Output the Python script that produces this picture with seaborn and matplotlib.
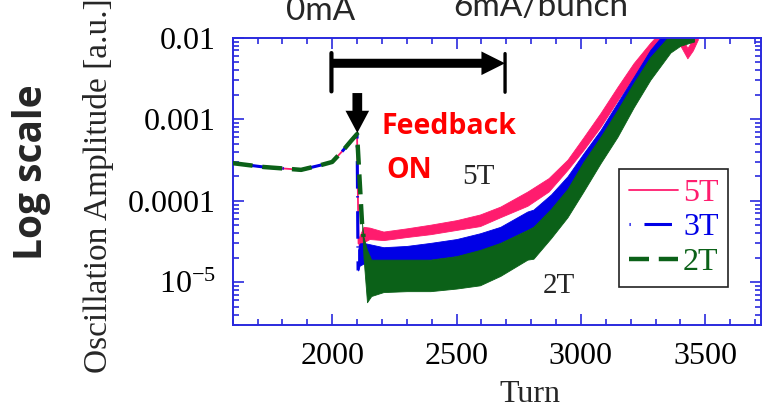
import matplotlib
matplotlib.use("Agg")
import matplotlib.pyplot as plt
from matplotlib.ticker import FixedLocator, FixedFormatter, MultipleLocator, LogLocator, NullFormatter
import pandas as pd
import seaborn as sns

# ---- data -------------------------------------------------------------
fields = ["5T", "3T", "2T"]

# common growth of the oscillation before the feedback is switched on
pre_turn = [1600, 1725, 1800, 1875, 1955, 2000, 2045, 2075, 2100]
pre_amp = [2.9e-4, 2.6e-4, 2.5e-4, 2.4e-4, 2.75e-4, 3.0e-4, 4.2e-4, 5.4e-4, 6.6e-4]

# damping step right after feedback ON
drop_turn = {"5T": [2106], "3T": [2104], "2T": [2120, 2126]}
drop_amp = {"5T": [3.0e-5], "3T": [1.4e-5], "2T": [5.3e-5, 3.6e-5]}

# envelope (min / max) of the fast oscillation after feedback ON
env_turn_5T = [2106, 2126, 2150, 2206, 2300, 2395, 2500, 2594, 2676, 2785, 2870, 2946,
               3010, 3079, 3147, 3212, 3279, 3310, 3340, 3400, 3428, 3450, 3470]
env_hi_5T = [3.5e-5, 4.8e-5, 4.7e-5, 4.2e-5, 4.6e-5, 5.1e-5, 5.8e-5, 6.8e-5, 8.5e-5, 1.3e-4,
             1.9e-4, 3.2e-4, 6.0e-4, 1.2e-3, 2.5e-3, 4.9e-3, 8.7e-3, 1.1e-2, 1.1e-2, 1.1e-2,
             7.5e-3, 9.5e-3, 1.1e-2]
env_lo_5T = [2.8e-5, 3.1e-5, 3.4e-5, 3.3e-5, 3.6e-5, 3.9e-5, 4.4e-5, 4.9e-5, 6.3e-5, 8.7e-5,
             1.3e-4, 2.4e-4, 4.2e-4, 8.1e-4, 1.7e-3, 3.3e-3, 6.6e-3, 8.0e-3, 9.0e-3, 8.0e-3,
             5.6e-3, 7.0e-3, 9.5e-3]

env_turn_3T = [2104, 2110, 2126, 2206, 2300, 2395, 2500, 2594, 2676, 2785, 2809, 2880,
               2946, 3010, 3079, 3147, 3212, 3279, 3331, 3350]
env_hi_3T = [2.5e-5, 3.0e-5, 3.05e-5, 2.7e-5, 2.8e-5, 3.05e-5, 3.4e-5, 4.0e-5, 4.8e-5, 7.4e-5,
             7.8e-5, 1.2e-4, 2.0e-4, 3.8e-4, 7.4e-4, 1.6e-3, 3.3e-3, 7.1e-3, 1.1e-2, 1.1e-2]
env_lo_3T = [1.4e-5, 1.6e-5, 1.7e-5, 1.7e-5, 1.8e-5, 1.9e-5, 2.1e-5, 2.4e-5, 3.05e-5, 4.4e-5,
             4.8e-5, 7.5e-5, 1.25e-4, 2.5e-4, 4.9e-4, 9.9e-4, 2.1e-3, 4.4e-3, 8.0e-3, 9.0e-3]

env_turn_2T = [2120, 2126, 2140, 2157, 2206, 2300, 2395, 2500, 2594, 2676, 2785, 2809, 2880,
               2946, 3010, 3079, 3147, 3212, 3279, 3360, 3400, 3455]
env_hi_2T = [5.3e-5, 3.6e-5, 2.5e-5, 1.9e-5, 1.9e-5, 1.9e-5, 1.9e-5, 2.1e-5, 2.5e-5, 3.05e-5,
             4.4e-5, 4.8e-5, 8.0e-5, 1.4e-4, 3.0e-4, 6.1e-4, 1.3e-3, 2.8e-3, 5.8e-3, 1.1e-2,
             1.1e-2, 1.1e-2]
env_lo_2T = [5.3e-5, 2.0e-5, 5.7e-6, 6.8e-6, 7.6e-6, 7.8e-6, 7.8e-6, 8.4e-6, 9.2e-6, 1.2e-5,
             1.9e-5, 1.95e-5, 3.5e-5, 6.3e-5, 1.3e-4, 2.9e-4, 6.1e-4, 1.4e-3, 3.05e-3, 6.6e-3,
             8.0e-3, 9.0e-3]

envelopes = {
    "5T": (env_turn_5T, env_lo_5T, env_hi_5T),
    "3T": (env_turn_3T, env_lo_3T, env_hi_3T),
    "2T": (env_turn_2T, env_lo_2T, env_hi_2T),
}

x_ticks = [2000, 2500, 3000, 3500]
y_ticks = [1e-5, 1e-4, 1e-3, 1e-2]
y_tick_labels = ["10$^{-5}$", "0.0001", "0.001", "0.01"]

# ---- style ------------------------------------------------------------
colors = {"5T": "#FF1C6E", "3T": "#0000E6", "2T": "#0B6118"}
widths = {"5T": 1.3, "3T": 2.2, "2T": 3.2}
dash_map = {"5T": "", "3T": (0.4, 4.5, 9, 2.5), "2T": (4.5, 2.2)}
spine_blue = "#2A2ADE"

sns.set_theme(style="ticks")
plt.rcParams["font.family"] = ["Liberation Serif", "DejaVu Serif"]
plt.rcParams["mathtext.fontset"] = "custom"
plt.rcParams["mathtext.rm"] = "Liberation Serif"
plt.rcParams["mathtext.it"] = "Liberation Serif:italic"

W, H = 765, 408
fig = plt.figure(figsize=(W / 100, H / 100), dpi=100)
ax = fig.add_axes([232.7 / W, 1 - 325 / H, (760.5 - 232.7) / W, (325 - 37.8) / H])

# long-form table of the traced lines (pre-feedback part + damping step)
rows = []
for f in fields:
    for t, a in zip(pre_turn + drop_turn[f], pre_amp + drop_amp[f]):
        rows.append({"Turn": t, "Amplitude": a, "field": f})
df = pd.DataFrame(rows)

# oscillation envelopes
for i, f in enumerate(fields):
    t, lo, hi = envelopes[f]
    ax.fill_between(t, lo, hi, color=colors[f], lw=0.6, ec=colors[f], zorder=2 + 0.1 * i)

sns.lineplot(data=df, x="Turn", y="Amplitude", hue="field", style="field", size="field",
             hue_order=fields, style_order=fields, size_order=fields,
             palette=colors, dashes=dash_map, sizes=widths, ax=ax, zorder=3,
             estimator=None, sort=False)

ax.set_yscale("log")
ax.set_xlim(1600, 3722)
ax.set_ylim(3e-6, 1e-2)

ax.xaxis.set_major_locator(FixedLocator(x_ticks))
ax.xaxis.set_minor_locator(MultipleLocator(100))
ax.yaxis.set_major_locator(FixedLocator(y_ticks))
ax.yaxis.set_major_formatter(FixedFormatter(y_tick_labels))
ax.yaxis.set_minor_locator(LogLocator(base=10, subs=range(2, 10), numticks=20))
ax.yaxis.set_minor_formatter(NullFormatter())

for s in ax.spines.values():
    s.set_color(spine_blue)
    s.set_linewidth(1.4)
ax.tick_params(which="both", direction="in", top=True, right=True, color=spine_blue,
               labelcolor="black", labelsize=23, width=1.2)
ax.tick_params(which="major", length=8, pad=12)
ax.tick_params(which="minor", length=4)

ax.set_xlabel("Turn", fontsize=23)
ax.xaxis.set_label_coords((530 - 232.7) / (760.5 - 232.7), -0.19)
ax.set_ylabel("Oscillation Amplitude [a.u.]", fontsize=24)
ax.yaxis.set_label_coords(-0.225, 0.484)

# legend with coloured labels
handles, labels = ax.get_legend_handles_labels()
ax.get_legend().remove()
leg = ax.legend(handles, labels, loc="upper left", bbox_to_anchor=(0.732, 0.543),
                fontsize=23, frameon=True, fancybox=False, edgecolor="#222222",
                framealpha=1, handlelength=1.55, handletextpad=0.15, labelspacing=0.16,
                borderpad=0.3, borderaxespad=0, labelcolor="linecolor")
leg.get_frame().set_linewidth(1.2)

# bracket and arrows marking the feedback period
ax.annotate("", xy=(2695, 4.87e-3), xytext=(1997, 4.87e-3),
            arrowprops=dict(width=6.5, headwidth=17, headlength=17, fc="black", ec="none", shrink=0))
ax.annotate("", xy=(1997, 6.5e-3), xytext=(1997, 2.2e-3),
            arrowprops=dict(arrowstyle="-", lw=3, color="black", shrinkA=0, shrinkB=0))
ax.annotate("", xy=(2695, 6.4e-3), xytext=(2695, 2.15e-3),
            arrowprops=dict(arrowstyle="-", lw=2.4, color="black", shrinkA=0, shrinkB=0))
ax.annotate("", xy=(2101, 6.8e-4), xytext=(2101, 2.1e-3),
            arrowprops=dict(width=7, headwidth=17, headlength=16, fc="black", ec="none", shrink=0))

fig.text(449 / W, 1 - 134 / H, "Feedback", color="red", fontsize=20.5, fontweight="bold",
         family="Open Sans", ha="center", va="baseline")
fig.text(409 / W, 1 - 178 / H, "ON", color="red", fontsize=20.5, fontweight="bold",
         family="Open Sans", ha="center", va="baseline")
fig.text(478 / W, 1 - 184 / H, "5T", fontsize=21, ha="center", va="baseline")
fig.text(559 / W, 1 - 293 / H, "2T", fontsize=21, ha="center", va="baseline")

fig.text(321 / W, 1 - 19.5 / H, "0mA", fontsize=24, family="Lato", ha="center", va="baseline")
fig.text(541 / W, 1 - 15.5 / H, "6mA/bunch", fontsize=24, family="Lato", ha="center", va="baseline")
fig.text(32 / W, 1 - 172 / H, "Log scale", fontsize=28, fontweight="bold", family="Open Sans",
         rotation=90, ha="center", va="center")

fig.savefig("out.png", dpi=100)
